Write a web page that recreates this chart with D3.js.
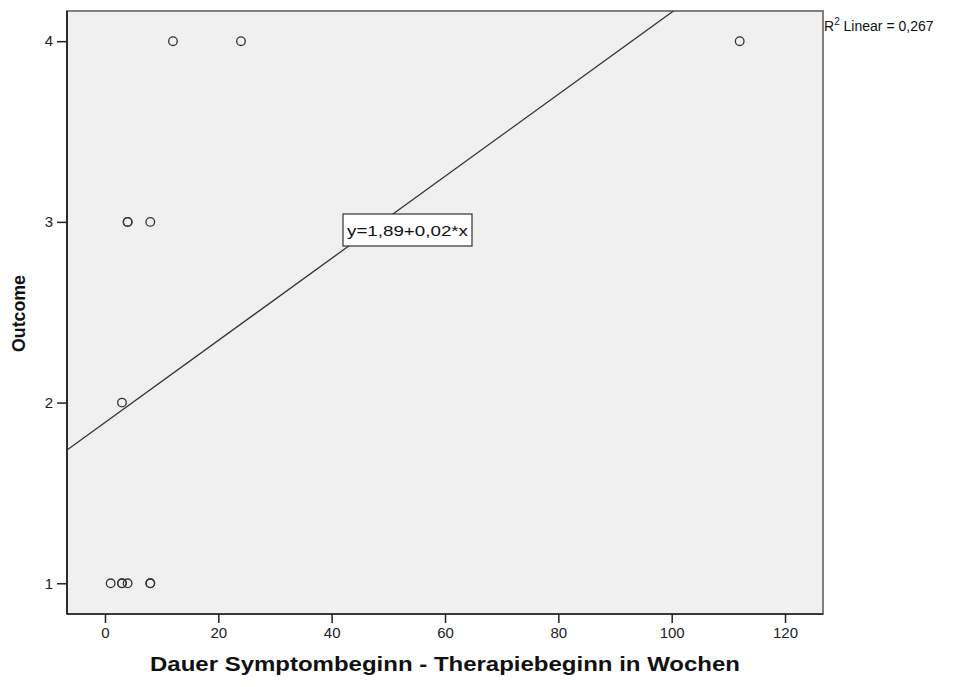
<!DOCTYPE html>
<html>
<head>
<meta charset="utf-8">
<script src="https://cdn.jsdelivr.net/npm/d3@7"></script>
<style>
  body { margin: 0; background: #fff; }
  text { font-family: Arial, "Liberation Sans", sans-serif; }
</style>
</head>
<body>
<svg id="chart" width="957" height="687"></svg>
<script>
// weeks between symptom onset and therapy start vs. outcome
const weeks = [1, 3, 3, 4, 8, 8, 3, 4, 4, 8, 12, 24, 112]
const outcome = [1, 1, 1, 1, 1, 1, 2, 3, 3, 3, 4, 4, 4]
const xTicks = [0, 20, 40, 60, 80, 100, 120]
const yTicks = [1, 2, 3, 4]
const fitIntercept = 1.89
const fitSlope = 0.0227
const fitLabel = 'y=1,89+0,02*x'
const r2Label = '0,267'

const svg = d3.select('#chart')
const plotLeft = 67
const plotRight = 823
const plotTop = 11
const plotBottom = 614

const x = d3.scaleLinear().domain([-6.7, 126.7]).range([plotLeft, plotRight])
const y = d3.scaleLinear().domain([0.83, 4.167]).range([plotBottom, plotTop])

// plot background
svg.append('rect')
  .attr('x', plotLeft).attr('y', plotTop)
  .attr('width', plotRight - plotLeft).attr('height', plotBottom - plotTop)
  .attr('fill', '#f0f0f0')
  .attr('stroke', '#808080')
  .attr('stroke-width', 2)

svg.append('defs').append('clipPath').attr('id', 'clip')
  .append('rect')
  .attr('x', plotLeft).attr('y', plotTop)
  .attr('width', plotRight - plotLeft).attr('height', plotBottom - plotTop)

// axes
const xAxis = svg.append('g')
  .attr('transform', `translate(0,${plotBottom})`)
  .call(d3.axisBottom(x).tickValues(xTicks).tickSize(9).tickPadding(4).tickFormat(d3.format('d')))
xAxis.select('.domain').attr('d', `M${plotLeft},0H${plotRight}`).attr('stroke', '#222').attr('stroke-width', 1.5)

const yAxis = svg.append('g')
  .attr('transform', `translate(${plotLeft},0)`)
  .call(d3.axisLeft(y).tickValues(yTicks).tickSize(10).tickPadding(4).tickFormat(d3.format('d')))
yAxis.select('.domain').attr('d', `M0,${plotTop}V${plotBottom}`).attr('stroke', '#111').attr('stroke-width', 1.5)

svg.selectAll('.tick line').attr('stroke', '#222').attr('stroke-width', 1.5)
svg.selectAll('.tick text')
  .style('font-size', '15px')
  .style('font-family', 'Arial, "Liberation Sans", sans-serif')
  .attr('fill', '#222')

// fit line
const x0 = x.domain()[0]
const x1 = x.domain()[1]
svg.append('line')
  .attr('clip-path', 'url(#clip)')
  .attr('x1', x(x0)).attr('y1', y(fitIntercept + fitSlope * x0))
  .attr('x2', x(x1)).attr('y2', y(fitIntercept + fitSlope * x1))
  .attr('stroke', '#333')
  .attr('stroke-width', 1.3)

// points
svg.append('g')
  .selectAll('circle')
  .data(weeks.map((w, i) => [w, outcome[i]]))
  .enter()
  .append('circle')
  .attr('cx', d => x(d[0]))
  .attr('cy', d => y(d[1]))
  .attr('r', 4.3)
  .attr('fill', 'none')
  .attr('stroke', '#333')
  .attr('stroke-width', 1.3)

// equation label
const lx = 343
const ly = 214
svg.append('rect')
  .attr('x', lx).attr('y', ly)
  .attr('width', 129).attr('height', 32)
  .attr('fill', '#fff')
  .attr('stroke', '#333')
  .attr('stroke-width', 1.2)
svg.append('text')
  .attr('x', lx + 4).attr('y', ly + 22)
  .attr('font-size', '15px')
  .attr('textLength', 121)
  .attr('lengthAdjust', 'spacingAndGlyphs')
  .attr('fill', '#111')
  .text(fitLabel)

// R squared note
const r2 = svg.append('text')
  .attr('x', 824).attr('y', 31)
  .attr('font-size', '14px')
  .attr('fill', '#111')
r2.append('tspan').text('R')
r2.append('tspan').attr('dy', -6).attr('font-size', '10px').text('2')
r2.append('tspan').attr('dy', 6).text(' Linear = ' + r2Label)

// axis titles
svg.append('text')
  .attr('x', 150).attr('y', 671)
  .attr('font-size', '21px')
  .attr('font-weight', 'bold')
  .attr('textLength', 590)
  .attr('lengthAdjust', 'spacingAndGlyphs')
  .attr('fill', '#111')
  .text('Dauer Symptombeginn - Therapiebeginn in Wochen')

svg.append('text')
  .attr('transform', `translate(25,352) rotate(-90)`)
  .attr('font-size', '18px')
  .attr('font-weight', 'bold')
  .attr('textLength', 77)
  .attr('lengthAdjust', 'spacingAndGlyphs')
  .attr('fill', '#111')
  .text('Outcome')
</script>
</body>
</html>
